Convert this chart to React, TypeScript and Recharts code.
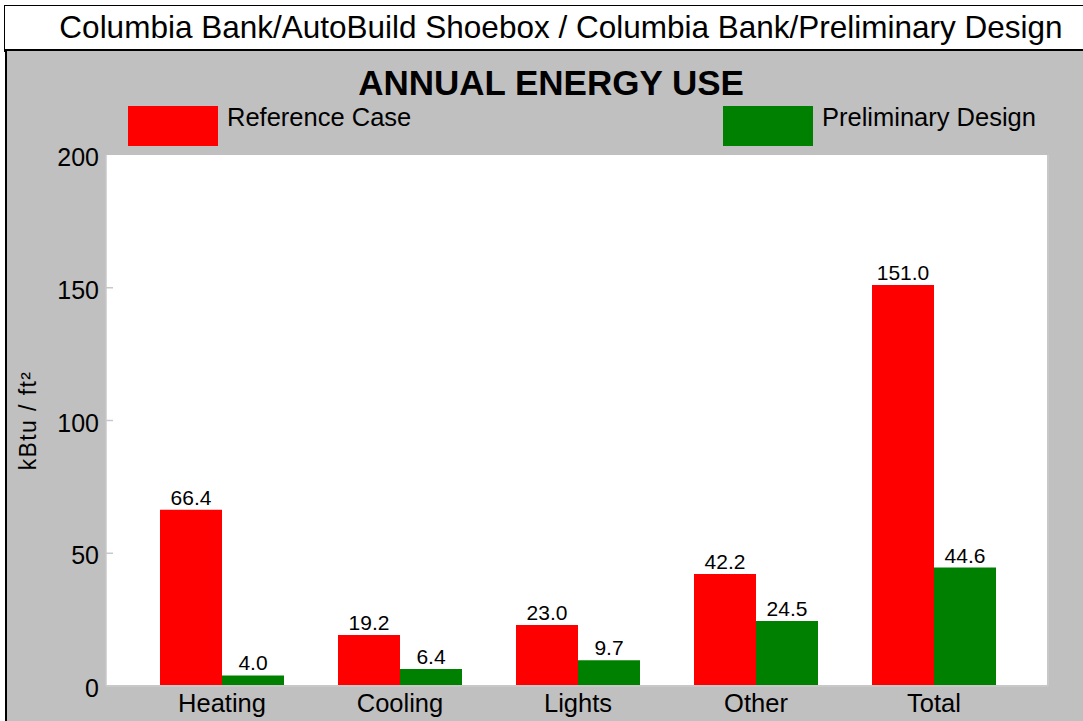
import React from 'react';
import { BarChart, Bar, XAxis, YAxis, CartesianGrid, LabelList } from 'recharts';

const categories = ['Heating', 'Cooling', 'Lights', 'Other', 'Total'];
const referenceCase = [66.4, 19.2, 23.0, 42.2, 151.0];
const preliminaryDesign = [4.0, 6.4, 9.7, 24.5, 44.6];
const yTicks = [0, 50, 100, 150, 200];

const series = [
  { key: 'reference', name: 'Reference Case', color: '#ff0000', values: referenceCase },
  { key: 'preliminary', name: 'Preliminary Design', color: '#008000', values: preliminaryDesign },
];

const data = categories.map((c, i) => ({
  name: c,
  reference: referenceCase[i],
  preliminary: preliminaryDesign[i],
}));

const FONT = '"Liberation Sans", Arial, sans-serif';
const AXIS_GREY = '#c8c8c8';

// left axis: label outside, short tick mark drawn inward
const LeftTick = (props: any) => {
  const { x, y, payload, tickSize = 6, tickMargin = 2 } = props;
  const axisX = x + tickSize + tickMargin;
  const inner = payload.value !== 0 && payload.value !== 200;
  return (
    <g>
      {inner && <line x1={axisX} x2={axisX + 7} y1={y} y2={y} stroke={AXIS_GREY} strokeWidth={1.5} />}
      <text x={x + 1} y={y} dy={11} textAnchor="end" fontSize={25} fill="#000" fontFamily={FONT}>
        {payload.value}
      </text>
    </g>
  );
};

const RightTick = (props: any) => {
  const { x, y, payload, tickSize = 6, tickMargin = 2 } = props;
  const axisX = x - tickSize - tickMargin;
  const inner = payload.value !== 0 && payload.value !== 200;
  if (!inner) return <g />;
  return <line x1={axisX - 8} x2={axisX} y1={y} y2={y} stroke={AXIS_GREY} strokeWidth={1.5} />;
};

const YLabel = (props: any) => {
  const { viewBox } = props;
  const cx = viewBox.x - 18;
  const cy = viewBox.y + viewBox.height / 2;
  return (
    <text
      x={cx}
      y={cy}
      transform={`rotate(-90 ${cx} ${cy})`}
      textAnchor="middle"
      dominantBaseline="central"
      fontSize={23}
      letterSpacing={1.4}
      fill="#000"
      fontFamily={FONT}
    >
      kBtu / ft²
    </text>
  );
};

export default function App() {
  return (
    <div
      style={{
        position: 'absolute',
        left: 0,
        top: 0,
        width: 1083,
        height: 721,
        overflow: 'hidden',
        background: '#fff',
        fontFamily: FONT,
      }}
    >
      {/* header box */}
      <div
        style={{
          position: 'absolute',
          left: 4,
          top: 5,
          width: 1120,
          height: 43,
          border: '1.5px solid #000',
          borderBottom: '3px solid #000',
          background: '#fff',
        }}
      >
        <div
          style={{
            position: 'absolute',
            left: 0,
            width: 1112,
            top: 3,
            textAlign: 'center',
            fontSize: 31.5,
            color: '#000',
            whiteSpace: 'nowrap',
          }}
        >
          Columbia Bank/AutoBuild Shoebox / Columbia Bank/Preliminary Design
        </div>
      </div>

      {/* grey panel */}
      <div
        style={{
          position: 'absolute',
          left: 5,
          top: 51,
          width: 1100,
          height: 700,
          background: '#c0c0c0',
          borderLeft: '2.5px solid #000',
        }}
      />

      <div
        style={{
          position: 'absolute',
          left: 0,
          width: 1102,
          top: 63,
          textAlign: 'center',
          fontSize: 35,
          fontWeight: 'bold',
          color: '#000',
        }}
      >
        ANNUAL ENERGY USE
      </div>

      {/* legend */}
      {series.map((s, i) => (
        <div
          key={s.key}
          style={{
            position: 'absolute',
            left: i === 0 ? 128 : 723,
            top: 106,
            display: 'flex',
            alignItems: 'flex-start',
          }}
        >
          <div style={{ width: 90, height: 40, background: s.color }} />
          <div style={{ marginLeft: 9, marginTop: -3, fontSize: 25.5, color: '#000', whiteSpace: 'nowrap' }}>
            {s.name}
          </div>
        </div>
      ))}

      <div style={{ position: 'absolute', left: 0, top: 0 }}>
        <BarChart
          width={1083}
          height={721}
          data={data}
          margin={{ top: 155, right: 25, bottom: 5, left: 46 }}
          barGap={0}
          barSize={62}
        >
          <CartesianGrid horizontal={false} vertical={false} fill="#ffffff" stroke="none" />
          <XAxis
            dataKey="name"
            height={30}
            padding={{ left: 27, right: 25 }}
            axisLine={{ stroke: AXIS_GREY, strokeWidth: 2 }}
            tickLine={false}
            tick={{ fontSize: 25.5, fill: '#000', fontFamily: FONT }}
            tickMargin={2}
          />
          <YAxis
            yAxisId="left"
            width={60}
            domain={[0, 200]}
            ticks={yTicks}
            interval={0}
            axisLine={{ stroke: AXIS_GREY, strokeWidth: 1.5 }}
            tickLine={false}
            tick={<LeftTick />}
            label={<YLabel />}
          />
          <YAxis
            yAxisId="right"
            orientation="right"
            width={10}
            domain={[0, 200]}
            ticks={yTicks}
            interval={0}
            axisLine={{ stroke: AXIS_GREY, strokeWidth: 2 }}
            tickLine={false}
            tick={<RightTick />}
          />
          {series.map((s) => (
            <Bar
              key={s.key}
              yAxisId="left"
              dataKey={s.key}
              name={s.name}
              fill={s.color}
              isAnimationActive={false}
            >
              <LabelList
                dataKey={s.key}
                position="top"
                offset={5}
                formatter={(v: any) => Number(v).toFixed(1)}
                style={{ fontSize: 21, fill: '#000', fontFamily: FONT }}
              />
            </Bar>
          ))}
        </BarChart>
      </div>
    </div>
  );
}
